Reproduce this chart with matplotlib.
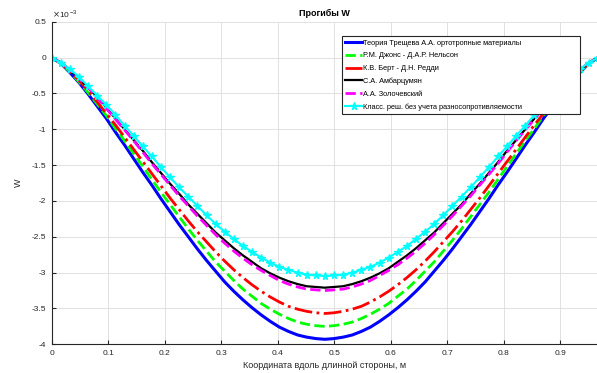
import matplotlib
matplotlib.use("Agg")
import matplotlib.pyplot as plt

plt.rcParams['font.family'] = ['Liberation Sans', 'DejaVu Sans']
plt.rcParams['axes.unicode_minus'] = False

# x grid (m)
x = [0, 0.0161, 0.0322, 0.0484, 0.0645, 0.0806, 0.0967, 0.1128, 0.1289, 0.1450,
     0.1612, 0.1773, 0.1934, 0.2095, 0.2256, 0.2418, 0.2579, 0.2740, 0.2901, 0.3062,
     0.3223, 0.3385, 0.3546, 0.3707, 0.3868, 0.4029, 0.4190, 0.4352, 0.4513, 0.4674,
     0.4835, 0.4996, 0.5157, 0.5319, 0.5480, 0.5641, 0.5802, 0.5963, 0.6124, 0.6286,
     0.6447, 0.6608, 0.6769, 0.6930, 0.7091, 0.7253, 0.7414, 0.7575, 0.7736, 0.7897,
     0.8058, 0.8220, 0.8381, 0.8542, 0.8703, 0.8864, 0.9025, 0.9187, 0.9348, 0.9509,
     0.9670]

# прогибы, x 1e-3
w_treshchev = [0, -0.08, -0.21, -0.35, -0.51, -0.68, -0.85, -1.04, -1.22, -1.41,
               -1.60, -1.78, -1.97, -2.15, -2.33, -2.50, -2.67, -2.83, -2.98, -3.13,
               -3.26, -3.38, -3.49, -3.59, -3.68, -3.76, -3.82, -3.87, -3.90, -3.92,
               -3.93, -3.92, -3.90, -3.87, -3.82, -3.76, -3.68, -3.59, -3.49, -3.38,
               -3.26, -3.13, -2.98, -2.83, -2.67, -2.50, -2.33, -2.15, -1.97, -1.78,
               -1.60, -1.41, -1.22, -1.04, -0.85, -0.68, -0.51, -0.35, -0.21, -0.08, 0]
w_jones = [0, -0.08, -0.20, -0.34, -0.49, -0.65, -0.81, -0.99, -1.16, -1.34,
           -1.52, -1.70, -1.88, -2.05, -2.22, -2.39, -2.55, -2.70, -2.85, -2.98,
           -3.11, -3.23, -3.33, -3.43, -3.51, -3.58, -3.64, -3.69, -3.72, -3.74,
           -3.75, -3.74, -3.72, -3.69, -3.64, -3.58, -3.51, -3.43, -3.33, -3.23,
           -3.11, -2.98, -2.85, -2.70, -2.55, -2.39, -2.22, -2.05, -1.88, -1.70,
           -1.52, -1.34, -1.16, -0.99, -0.81, -0.65, -0.49, -0.34, -0.20, -0.08, 0]
w_bert = [0, -0.08, -0.19, -0.32, -0.46, -0.62, -0.78, -0.94, -1.11, -1.28,
          -1.45, -1.62, -1.79, -1.96, -2.12, -2.28, -2.43, -2.57, -2.71, -2.84,
          -2.96, -3.07, -3.17, -3.26, -3.34, -3.41, -3.47, -3.51, -3.54, -3.56,
          -3.57, -3.56, -3.54, -3.51, -3.47, -3.41, -3.34, -3.26, -3.17, -3.07,
          -2.96, -2.84, -2.71, -2.57, -2.43, -2.28, -2.12, -1.96, -1.79, -1.62,
          -1.45, -1.28, -1.11, -0.94, -0.78, -0.62, -0.46, -0.32, -0.19, -0.08, 0]
w_ambarts = [0, -0.07, -0.17, -0.29, -0.42, -0.55, -0.70, -0.85, -1.00, -1.15,
             -1.30, -1.46, -1.61, -1.76, -1.90, -2.05, -2.18, -2.31, -2.44, -2.55,
             -2.66, -2.76, -2.85, -2.94, -3.01, -3.07, -3.12, -3.16, -3.19, -3.20,
             -3.21, -3.20, -3.19, -3.16, -3.12, -3.07, -3.01, -2.94, -2.85, -2.76,
             -2.66, -2.55, -2.44, -2.31, -2.18, -2.05, -1.90, -1.76, -1.61, -1.46,
             -1.30, -1.15, -1.00, -0.85, -0.70, -0.55, -0.42, -0.29, -0.17, -0.07, 0]
w_zolot = [0, -0.07, -0.17, -0.29, -0.42, -0.56, -0.71, -0.86, -1.01, -1.16,
           -1.32, -1.48, -1.63, -1.78, -1.93, -2.07, -2.21, -2.34, -2.47, -2.59,
           -2.70, -2.80, -2.89, -2.97, -3.04, -3.11, -3.16, -3.20, -3.23, -3.24,
           -3.25, -3.24, -3.23, -3.20, -3.16, -3.11, -3.04, -2.97, -2.89, -2.80,
           -2.70, -2.59, -2.47, -2.34, -2.21, -2.07, -1.93, -1.78, -1.63, -1.48,
           -1.32, -1.16, -1.01, -0.86, -0.71, -0.56, -0.42, -0.29, -0.17, -0.07, 0]
w_class = [0, -0.07, -0.16, -0.27, -0.40, -0.53, -0.66, -0.80, -0.95, -1.09,
           -1.24, -1.38, -1.53, -1.67, -1.81, -1.94, -2.07, -2.20, -2.32, -2.43,
           -2.53, -2.63, -2.71, -2.79, -2.86, -2.92, -2.96, -3.00, -3.03, -3.04,
           -3.05, -3.04, -3.03, -3.00, -2.96, -2.92, -2.86, -2.79, -2.71, -2.63,
           -2.53, -2.43, -2.32, -2.20, -2.07, -1.94, -1.81, -1.67, -1.53, -1.38,
           -1.24, -1.09, -0.95, -0.80, -0.66, -0.53, -0.40, -0.27, -0.16, -0.07, 0]

labels = ['Теория Трещева А.А. ортотропные материалы',
          'Р.М. Джонс - Д.А.Р. Нельсон',
          'К.В. Берт - Д.Н. Редди',
          'С.А. Амбарцумян',
          'А.А. Золочевский',
          'Класс. реш. без учета разносопротивляемости']

xticks = [0, 0.1, 0.2, 0.3, 0.4, 0.5, 0.6, 0.7, 0.8, 0.9]
yticks = [0.5, 0, -0.5, -1, -1.5, -2, -2.5, -3, -3.5, -4]

fig = plt.figure(figsize=(5.97, 3.73), dpi=100)
ax = fig.add_axes([0.0866, 0.0769, 0.9134, 0.8649])

ax.plot(x, w_treshchev, color='#0000ff', lw=2.2, label=labels[0])
ax.plot(x, w_jones, color='#00ff00', lw=2.0, ls='--', label=labels[1])
ax.plot(x, w_bert, color='#ff0000', lw=2.0, ls='-.', label=labels[2])
ax.plot(x, w_ambarts, color='k', lw=1.6, label=labels[3])
ax.plot(x, w_zolot, color='#ff00ff', lw=2.0, ls='--', label=labels[4])
ax.plot(x, w_class, color='#00ffff', lw=1.5, marker='*', ms=5.5, label=labels[5])

ax.set_xlim(0, 0.965)
ax.set_ylim(-4, 0.5)
ax.set_xticks(xticks)
ax.set_xticklabels([('%g' % t) for t in xticks])
ax.set_yticks(yticks)
ax.set_yticklabels([('%g' % t) for t in yticks])
ax.tick_params(direction='in', length=3, width=0.8, labelsize=6, colors='#262626',
               pad=4)
ax.grid(True, color='#dcdcdc', lw=0.6)
ax.set_axisbelow(True)
for s in ['top', 'right']:
    ax.spines[s].set_visible(False)
for s in ['left', 'bottom']:
    ax.spines[s].set_color('#262626')
    ax.spines[s].set_linewidth(0.8)

ax.set_title('Прогибы W', fontsize=6.5, fontweight='bold', pad=4)
ax.set_xlabel('Координата вдоль длинной стороны, м', fontsize=6.5, color='#262626',
              labelpad=3)
ax.set_ylabel('W', fontsize=6.5, color='#262626', labelpad=6)
ax.text(0.0, 1.005, r'$\times$10$^{\,\mathregular{-3}}$', transform=ax.transAxes,
        fontsize=6, color='#262626', ha='left', va='bottom')

leg = ax.legend(loc='upper left', bbox_to_anchor=(0.532, 0.0, 0.4365, 0.956),
                mode='expand', borderaxespad=0, fontsize=5.3,
                handlelength=2.2, handletextpad=0.2, labelspacing=0.75,
                borderpad=0.5, fancybox=False, framealpha=1, edgecolor='#262626')
leg.get_frame().set_linewidth(0.8)

fig.savefig('out.png', dpi=100)
